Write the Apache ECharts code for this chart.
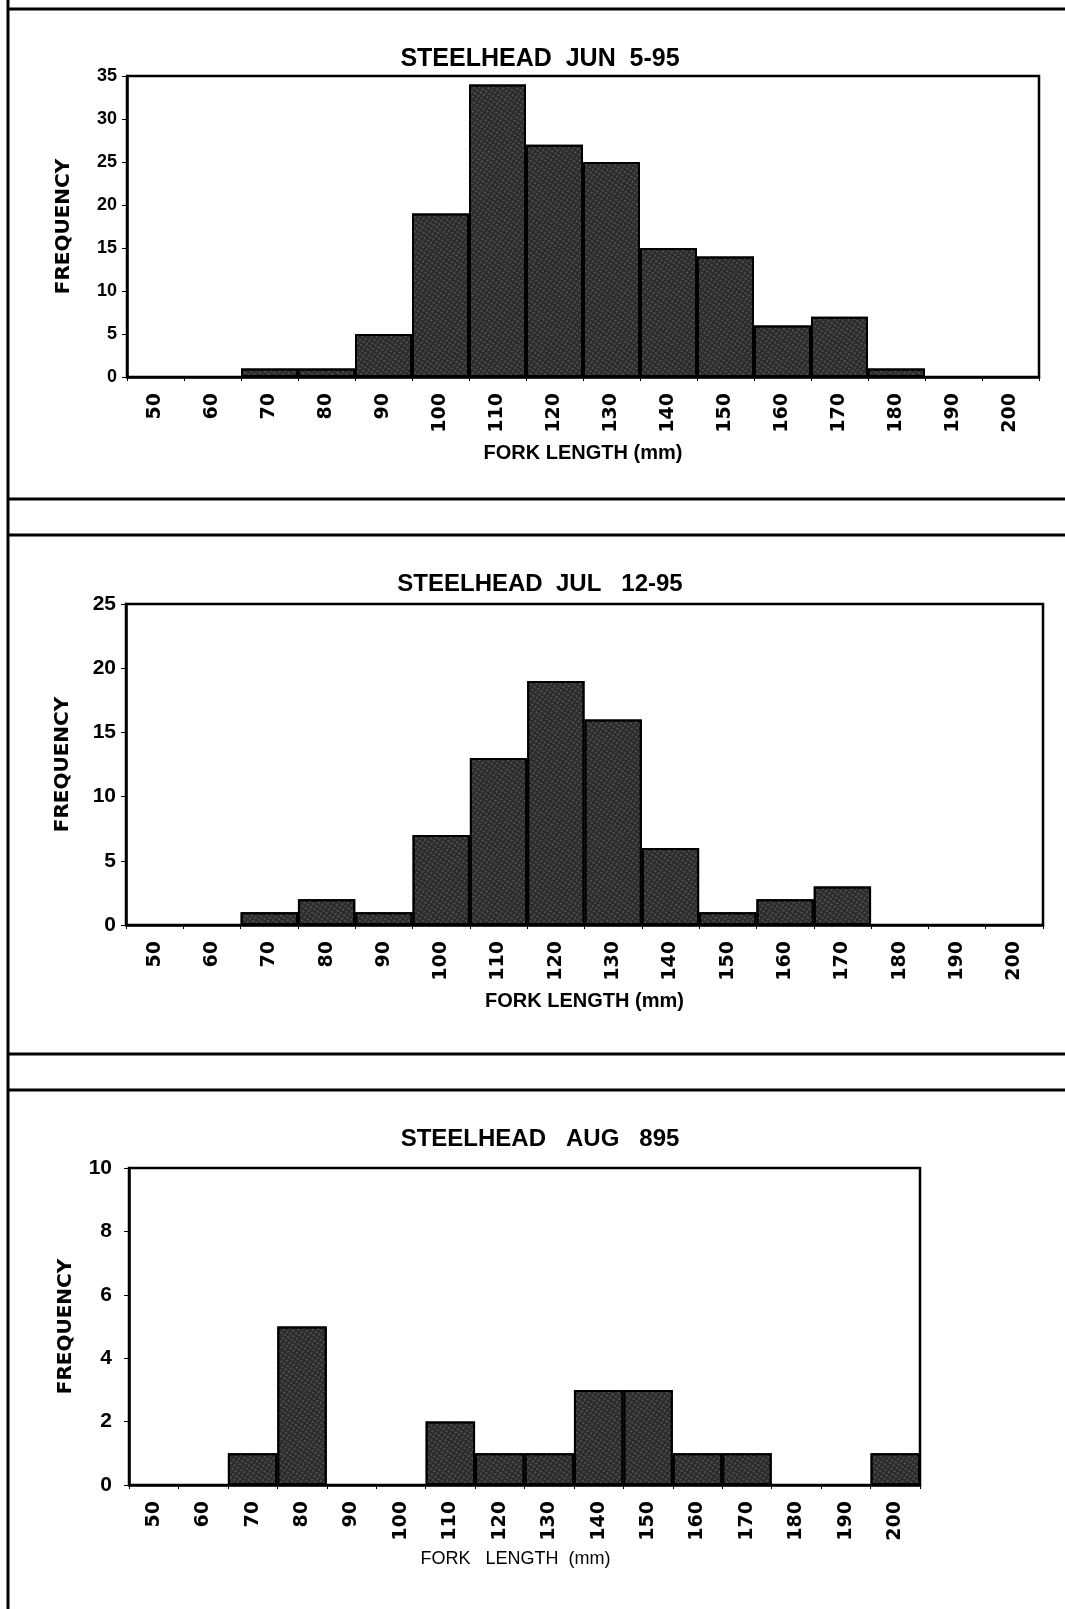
<!DOCTYPE html>
<html>
<head>
<meta charset="utf-8">
<script src="https://cdn.jsdelivr.net/npm/echarts@6/dist/echarts.min.js"></script>
<style>
html,body{margin:0;padding:0;background:#fff;}
#chart{width:1065px;height:1609px;}
</style>
</head>
<body>
<div id="chart"></div>
<script>
// Fork length bins (mm)
const lengthCategories = ['50','60','70','80','90','100','110','120','130','140','150','160','170','180','190','200'];
// Frequencies per bin
const junFreq = [0,0,1,1,5,19,34,27,25,15,14,6,7,1,0,0];
const julFreq = [0,0,1,2,1,7,13,19,16,6,1,2,3,0,0,0];
const augFreq = [0,0,1,5,0,0,2,1,1,3,3,1,1,0,0,1];
// Titles and axis texts
const chartTitles = ['STEELHEAD  JUN  5-95', 'STEELHEAD  JUL   12-95', 'STEELHEAD   AUG   895'];
const yAxisName = 'FREQUENCY';
const xAxisName = 'FORK LENGTH (mm)';
const xAxisNameAug = 'FORK   LENGTH  (mm)';
const yMax = [35, 25, 10];
const yStep = [5, 5, 2];

const chart = echarts.init(document.getElementById('chart'), null, {renderer:'canvas'});
const F = 'Arial, "Liberation Sans", sans-serif';
const FW = '"DejaVu Sans", Arial, sans-serif';
const FN = '"Liberation Sans Narrow", "Arial Narrow", Arial, sans-serif';

const grids = [
  {left:127, top:76, width:912, height:301},
  {left:126, top:604, width:917, height:321},
  {left:129, top:1168, width:791, height:317}
];
const titleTops = [42, 567, 1122];
const seriesData = [junFreq, julFreq, augFreq];

const option = {
  backgroundColor:'#fff',
  animation:false,
  title: chartTitles.map((t,i)=>({
    text:t, left:535, top:titleTops[i], textAlign:'center',
    textStyle:{fontFamily: i===0 ? F : FN, fontWeight:'bold', fontSize: i===0 ? 25 : 24, color:'#000'}
  })),
  grid: grids.map(g=>Object.assign({show:true, borderColor:'#000', borderWidth:2.5, backgroundColor:'transparent'}, g)),
  xAxis: grids.map((g,i)=>({
    type:'category', gridIndex:i, data:lengthCategories,
    name: i===2 ? xAxisNameAug : xAxisName,
    nameLocation:'middle', nameGap: i===2 ? 65 : 66,
    nameTextStyle:{fontFamily: i===2 ? FN : F, fontWeight: i===2 ? 'normal' : 'bold', fontSize: i===2 ? 18 : 20, color:'#000', letterSpacing: i===2 ? 0 : -0.6, padding: i===2 ? [0,18,0,0] : 0},
    axisLine:{show:true, lineStyle:{color:'#000', width:2.5}},
    axisTick:{show:true, length:4, lineStyle:{color:'#000'}},
    axisLabel:{rotate:90, margin:16, fontFamily:FW, fontWeight:'bold', fontSize:19, color:'#000'},
    splitLine:{show:false}
  })),
  yAxis: grids.map((g,i)=>({
    type:'value', gridIndex:i, min:0, max:yMax[i], interval:yStep[i],
    name:yAxisName, nameLocation:'middle', nameGap:53, nameRotate:90,
    nameTextStyle:{fontFamily:FW, fontWeight:'bold', fontSize:20, color:'#000'},
    axisLine:{show:true, lineStyle:{color:'#000', width:2.5}},
    axisTick:{show:true, length:5, lineStyle:{color:'#000'}},
    axisLabel:{margin: i===2 ? 17 : 10, fontFamily: i===0 ? F : FN, fontWeight:'bold', fontSize: i===0 ? 18 : 21, color:'#000'},
    splitLine:{show:false}
  })),
  series: seriesData.map((d,i)=>({
    type:'bar', xAxisIndex:i, yAxisIndex:i, data:d,
    barCategoryGap:'0%',
    itemStyle:{
      color:'#2c2c2c', borderColor:'#000', borderWidth:2,
      decal:{symbol:'rect', symbolSize:0.55, dashArrayX:[[2,2]], dashArrayY:[2,2], rotation:0.6, color:'rgba(215,215,215,0.75)'}
    }
  })),
  graphic: [
    {type:'line', shape:{x1:8,y1:0,x2:8,y2:1609}, style:{stroke:'#000', lineWidth:3}},
    {type:'line', shape:{x1:8,y1:9,x2:1065,y2:9}, style:{stroke:'#000', lineWidth:3}},
    {type:'line', shape:{x1:8,y1:499,x2:1065,y2:499}, style:{stroke:'#000', lineWidth:3}},
    {type:'line', shape:{x1:8,y1:535,x2:1065,y2:535}, style:{stroke:'#000', lineWidth:3}},
    {type:'line', shape:{x1:8,y1:1054,x2:1065,y2:1054}, style:{stroke:'#000', lineWidth:3}},
    {type:'line', shape:{x1:8,y1:1090,x2:1065,y2:1090}, style:{stroke:'#000', lineWidth:3}}
  ]
};
chart.setOption(option);
</script>
</body>
</html>
